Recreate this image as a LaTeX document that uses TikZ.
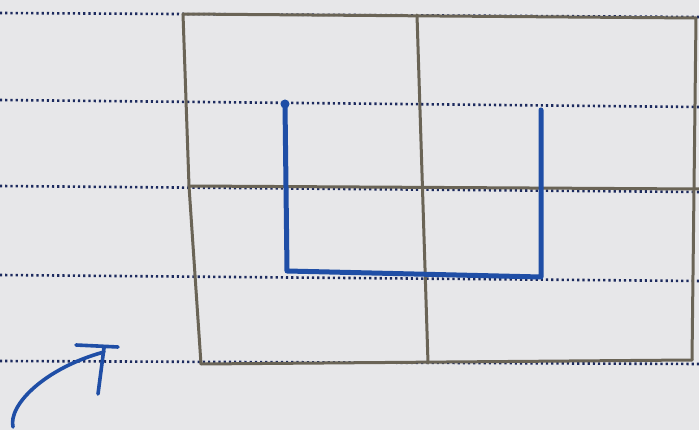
\documentclass[tikz,border=0pt]{standalone}
\begin{document}
\begin{tikzpicture}[x=1pt,y=-1pt,
  paper/.style={fill=paperc},
  ruled/.style={draw=dotc, line width=2.6pt, dash pattern=on 2.2pt off 3pt},
  pencil/.style={draw=pencilc, line width=3pt, line cap=round},
  ink/.style={draw=inkc, line width=5pt, line cap=round, line join=round}]
\definecolor{paperc}{HTML}{E7E7E9}
\definecolor{dotc}{HTML}{1C2A5E}
\definecolor{pencilc}{HTML}{6A6456}
\definecolor{inkc}{HTML}{1F4EA6}
\fill[paper] (0,0) rectangle (699,430);
\useasboundingbox (0,0) rectangle (699,430);
% ruled dotted lines
\coordinate (r1a) at (0,13);  \coordinate (r1b) at (699,17);
\coordinate (r2a) at (0,100); \coordinate (r2b) at (699,107);
\coordinate (r3a) at (0,186); \coordinate (r3b) at (699,192);
\coordinate (r4a) at (0,275); \coordinate (r4b) at (699,281);
\coordinate (r5a) at (0,361); \coordinate (r5b) at (699,364);
\foreach \i in {1,...,5} {\draw[ruled] (r\i a) -- (r\i b);}
% pencil grid
\coordinate (tl) at (183,14);
\coordinate (tr) at (696,18);
\coordinate (bl) at (201,364);
\coordinate (br) at (692,360);
\coordinate (tm) at (417,15);
\coordinate (bm) at (428,363);
\coordinate (ml) at (189,186);
\coordinate (mr) at (699,189);
\draw[pencil] (tl) -- (tr);
\draw[pencil] (tr) -- (br);
\draw[pencil] (tl) -- (ml) -- (bl);
\draw[pencil] (bl) -- (br);
\draw[pencil] (tm) -- (bm);
\draw[pencil] (ml) -- (mr);
% blue U shape
\coordinate (u1) at (285,104);
\coordinate (u2) at (287,271);
\coordinate (u3) at (541,277);
\coordinate (u4) at (541,110);
\fill[inkc] (u1) circle (4.5pt);
\draw[ink] (u1) -- (u2) -- (u3) -- (u4);
% blue arrow
\coordinate (a0) at (13,427);
\coordinate (a1) at (104,352);
\coordinate (h1) at (76,345);
\coordinate (h2) at (118,347);
\coordinate (v2) at (98,394);
\draw[ink, line width=3.6pt] (a0) .. controls (8,405) and (45,368) .. (a1);
\draw[ink, line width=3.6pt] (h1) -- (h2);
\draw[ink, line width=3.6pt] (104,348) -- (v2);
\end{tikzpicture}
\end{document}
